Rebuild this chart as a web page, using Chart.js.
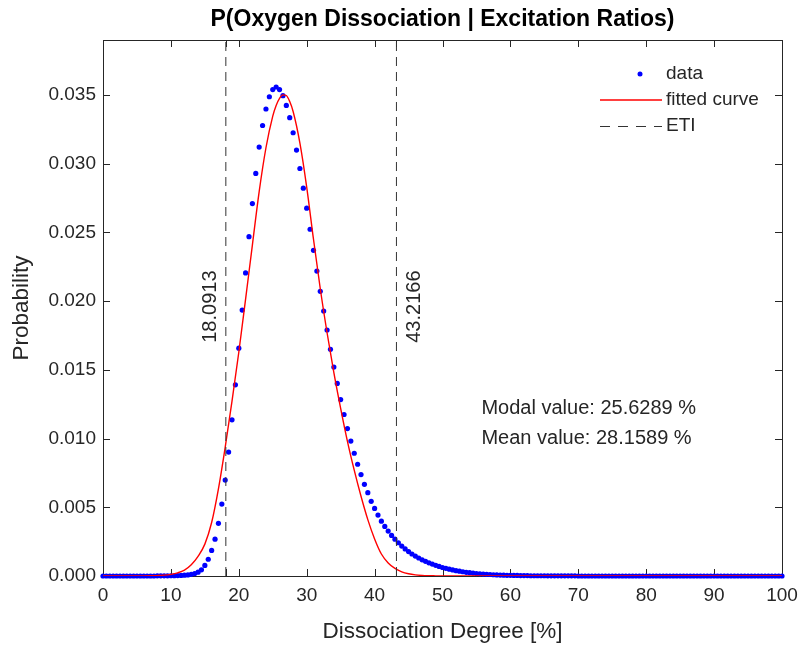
<!DOCTYPE html>
<html>
<head>
<meta charset="utf-8">
<script src="https://cdn.jsdelivr.net/npm/chart.js@4/dist/chart.umd.min.js"></script>
<style>
  html, body { margin: 0; padding: 0; background: #fff; }
</style>
</head>
<body>
<canvas id="chartContainer" width="800" height="646"></canvas>
<script>
// x grid of the histogram (0 : 0.5 : 100)
const dataX = Array.from({ length: 201 }, (_, i) => i * 0.5);

// probability, one value per grid step
const dataY = [
  0, 0, 0, 0, 0, 0, 0, 0, 0, 0, 0, 0, 0, 0, 0, 0,
  0.00001, 0.00001, 0.00001, 0.00001, 0.00002, 0.00002, 0.00003, 0.00004, 0.00006, 0.00008,
  0.00012, 0.00018, 0.00028, 0.00045,
  0.00077, 0.00122, 0.00186, 0.00268, 0.00383, 0.00523, 0.00698, 0.00902, 0.01136, 0.01391,
  0.01658, 0.01935, 0.02205, 0.02469, 0.02710, 0.02929, 0.03121, 0.03278, 0.03398, 0.03487,
  0.03539, 0.03558, 0.03539, 0.03495, 0.03424, 0.03335, 0.03225, 0.03099, 0.02965, 0.02822,
  0.02676, 0.02523, 0.02370, 0.02219, 0.02071, 0.01928, 0.01790, 0.01649, 0.01520, 0.01401,
  0.01284, 0.01175, 0.01073, 0.00982, 0.00893, 0.00813, 0.00738, 0.00667, 0.00606, 0.00543,
  0.00492, 0.00443, 0.00399, 0.00361, 0.00327, 0.00295, 0.00268, 0.00242, 0.00218, 0.00197,
  0.00178, 0.00160, 0.00145, 0.00131, 0.00118, 0.00107, 0.00096, 0.00087, 0.00078, 0.00070,
  0.00062, 0.00056, 0.00050, 0.00044, 0.00039, 0.00035, 0.00031, 0.00027, 0.00024, 0.00021,
  0.00018, 0.00016, 0.00014, 0.00012, 0.00011, 0.00009, 0.00008, 0.00007, 0.00006, 0.00005,
  0.00005, 0.00004, 0.00004, 0.00003, 0.00003, 0.00003, 0.00002, 0.00002, 0.00002, 0.00002,
  0.00002, 0.00001, 0.00001, 0.00001, 0.00001, 0.00001, 0.00001, 0.00001, 0.00001, 0.00001,
  0, 0, 0, 0, 0, 0, 0, 0, 0, 0, 0, 0, 0, 0, 0, 0, 0, 0, 0, 0,
  0, 0, 0, 0, 0, 0, 0, 0, 0, 0, 0, 0, 0, 0, 0, 0, 0, 0, 0, 0,
  0, 0, 0, 0, 0, 0, 0, 0, 0, 0, 0, 0, 0, 0, 0, 0, 0, 0, 0, 0, 0
];

// fitted curve (red), read at these x positions
const fitX = [
  0, 1, 2, 3, 4, 5, 6, 7, 8, 9, 10, 11, 12, 13, 14, 15, 16, 17, 18, 19,
  20, 21, 22, 23, 24, 25, 25.5, 26, 26.5, 27, 27.5, 28, 29, 30, 31, 32, 33, 34, 35,
  36, 37, 38, 39, 40, 41, 42, 43, 44, 45, 46, 47, 48, 49, 50, 100
];
const fitY = [
  0, 0, 0, 0, 0, 0, 0.000005, 0.000013, 0.00003, 0.00006, 0.00012, 0.00023, 0.00043, 0.00082,
  0.00143, 0.00232, 0.00389, 0.00634, 0.00938, 0.01272,
  0.01628, 0.02015, 0.02408, 0.02797, 0.03116, 0.03346, 0.03424, 0.03476, 0.03501, 0.03496, 0.03452,
  0.0338, 0.0315, 0.0283, 0.0245, 0.0209, 0.0177, 0.0148, 0.0122,
  0.0098, 0.0077, 0.0058, 0.0041, 0.0027, 0.0016, 0.00095, 0.00055, 0.0003, 0.00016,
  0.00008, 0.00004, 0.00002, 0.00001, 0, 0
];

// equal-tailed interval bounds
const etiBounds = [18.0913, 43.2166];
const etiLabels = ["18.0913", "43.2166"];

const xTicks = [0, 10, 20, 30, 40, 50, 60, 70, 80, 90, 100];
const yTicks = [0, 0.005, 0.010, 0.015, 0.020, 0.025, 0.030, 0.035];
const yMax = 0.039;

const modalText = "Modal value: 25.6289 %";
const meanText = "Mean value: 28.1589 %";

const FONT = "'Liberation Sans', Arial, Helvetica, sans-serif";
const INK = "#262626";
const TICK = 7;

// MATLAB style box, inward ticks, legend and text annotations
const matlabAxes = {
  id: "matlabAxes",
  beforeDatasetsDraw(chart) {
    const { ctx, chartArea: a, scales: { x, y } } = chart;
    ctx.save();
    ctx.strokeStyle = INK;
    ctx.lineWidth = 1;
    ctx.strokeRect(a.left + 0.5, a.top + 0.5, a.right - a.left, a.bottom - a.top);
    ctx.beginPath();
    xTicks.concat(etiBounds).forEach((v) => {
      const px = Math.round(x.getPixelForValue(v)) + 0.5;
      ctx.moveTo(px, a.bottom);
      ctx.lineTo(px, a.bottom - TICK);
      ctx.moveTo(px, a.top);
      ctx.lineTo(px, a.top + TICK);
    });
    yTicks.forEach((v) => {
      const py = Math.round(y.getPixelForValue(v)) + 0.5;
      ctx.moveTo(a.left, py);
      ctx.lineTo(a.left + TICK, py);
      ctx.moveTo(a.right, py);
      ctx.lineTo(a.right - TICK, py);
    });
    ctx.stroke();
    ctx.restore();
  },
  afterDatasetsDraw(chart) {
    const { ctx, chartArea: a, scales: { x, y } } = chart;
    ctx.save();

    // rotated ETI values next to the dashed lines
    ctx.fillStyle = INK;
    ctx.font = "20px " + FONT;
    ctx.textAlign = "center";
    ctx.textBaseline = "middle";
    etiBounds.forEach((v, i) => {
      const px = x.getPixelForValue(v) + (i === 0 ? -15 : 18);
      const py = y.getPixelForValue(0.0196);
      ctx.save();
      ctx.translate(px, py);
      ctx.rotate(-Math.PI / 2);
      ctx.fillText(etiLabels[i], 0, 0);
      ctx.restore();
    });

    // modal / mean text
    ctx.textAlign = "left";
    ctx.fillText(modalText, x.getPixelForValue(55) + 5, y.getPixelForValue(0.0122));
    ctx.fillText(meanText, x.getPixelForValue(55) + 5, y.getPixelForValue(0.0100));

    // legend
    const lx = a.right - 182, tx = a.right - 116;
    const rows = [a.top + 34, a.top + 60, a.top + 86];
    ctx.fillStyle = "#0000ff";
    ctx.beginPath();
    ctx.arc(a.right - 142, rows[0], 2.5, 0, Math.PI * 2);
    ctx.fill();
    ctx.strokeStyle = "#ff0000";
    ctx.lineWidth = 1.4;
    ctx.beginPath();
    ctx.moveTo(lx, rows[1]);
    ctx.lineTo(lx + 62, rows[1]);
    ctx.stroke();
    ctx.strokeStyle = "#333333";
    ctx.lineWidth = 1;
    ctx.setLineDash([10, 8]);
    ctx.beginPath();
    ctx.moveTo(lx, rows[2] + 0.5);
    ctx.lineTo(lx + 62, rows[2] + 0.5);
    ctx.stroke();
    ctx.setLineDash([]);
    ctx.fillStyle = INK;
    ctx.font = "19px " + FONT;
    ctx.fillText("data", tx, rows[0]);
    ctx.fillText("fitted curve", tx, rows[1]);
    ctx.fillText("ETI", tx, rows[2]);
    ctx.restore();
  },
};

const config = {
  type: "scatter",
  data: {
    datasets: [
      {
        label: "ETI",
        data: [
          { x: etiBounds[0], y: 0 }, { x: etiBounds[0], y: yMax },
          { x: 30, y: null },
          { x: etiBounds[1], y: 0 }, { x: etiBounds[1], y: yMax },
        ],
        showLine: true,
        spanGaps: false,
        borderColor: "#333333",
        borderWidth: 1,
        borderDash: [9, 6],
        pointRadius: 0,
      },
      {
        label: "fitted curve",
        data: fitX.map((v, i) => ({ x: v, y: fitY[i] })),
        showLine: true,
        borderColor: "#ff0000",
        borderWidth: 1.4,
        cubicInterpolationMode: "monotone",
        pointRadius: 0,
      },
      {
        label: "data",
        data: dataX.map((v, i) => ({ x: v, y: dataY[i] })),
        backgroundColor: "#0000ff",
        borderWidth: 0,
        pointRadius: 2.6,
        clip: false,
      },
    ],
  },
  options: {
    responsive: false,
    animation: false,
    events: [],
    layout: { padding: { left: 0, right: 18, top: 0, bottom: 0 } },
    scales: {
      x: {
        type: "linear",
        min: 0,
        max: 100,
        grid: { display: false, drawTicks: false },
        border: { display: false },
        afterBuildTicks: (s) => { s.ticks = xTicks.map((v) => ({ value: v })); },
        afterFit: (s) => { s.height = 70; s.paddingLeft = 0; s.paddingRight = 0; },
        ticks: {
          padding: 8,
          color: INK,
          font: { family: FONT, size: 19 },
          maxRotation: 0,
          autoSkip: false,
          callback: (v) => String(v),
        },
        title: {
          display: true,
          text: "Dissociation Degree [%]",
          color: INK,
          font: { family: FONT, size: 22.5 },
          padding: { top: 0, bottom: 0.5 },
        },
      },
      y: {
        type: "linear",
        min: 0,
        max: yMax,
        grid: { display: false, drawTicks: false },
        border: { display: false },
        afterBuildTicks: (s) => { s.ticks = yTicks.map((v) => ({ value: v })); },
        afterFit: (s) => { s.width = 103; s.paddingTop = 0; s.paddingBottom = 0; },
        ticks: {
          padding: 7,
          color: INK,
          font: { family: FONT, size: 19 },
          autoSkip: false,
          callback: (v) => Number(v).toFixed(3),
        },
        title: {
          display: true,
          text: "Probability",
          color: INK,
          font: { family: FONT, size: 22.5 },
          padding: { top: 8.5, bottom: 0 },
        },
      },
    },
    plugins: {
      legend: { display: false },
      tooltip: { enabled: false },
      title: {
        display: true,
        fullSize: false,
        text: "P(Oxygen Dissociation | Excitation Ratios)",
        color: "#000000",
        font: { family: FONT, size: 23, weight: "bold" },
        padding: { top: 5.6, bottom: 6.8 },
      },
    },
  },
  plugins: [matlabAxes],
};

const ctx = document.getElementById("chartContainer").getContext("2d");
const probabilityChart = new Chart(ctx, config);
</script>
</body>
</html>
